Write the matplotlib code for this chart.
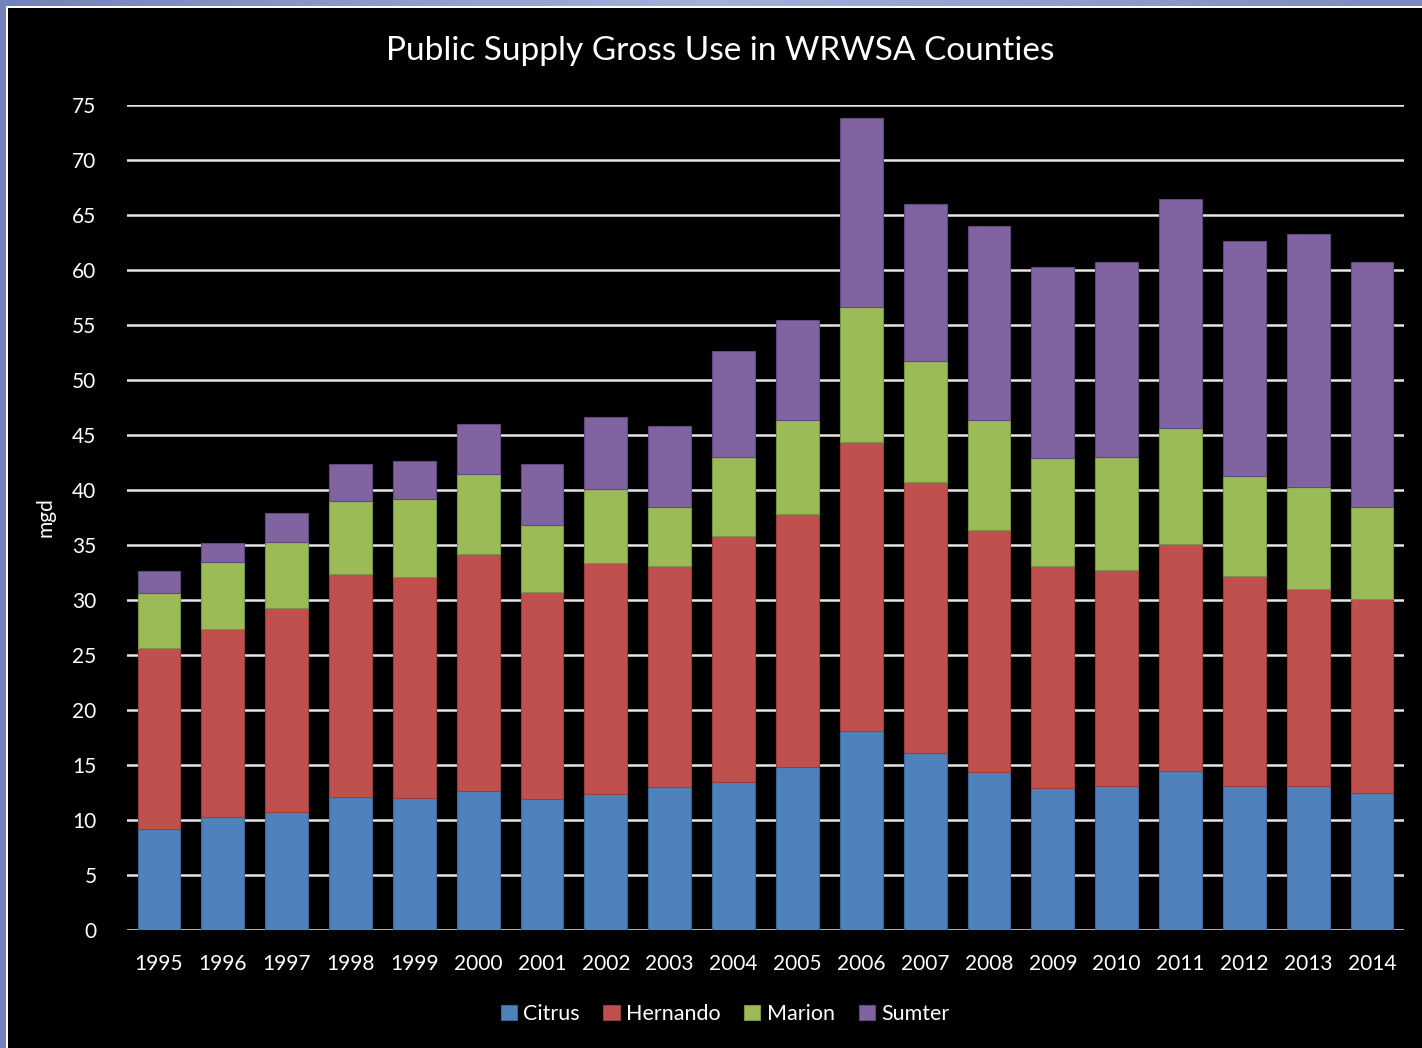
import numpy as np
import matplotlib.pyplot as plt
from matplotlib.patches import Rectangle

years = [str(y) for y in range(1995, 2015)]
citrus = [9.2, 10.3, 10.7, 12.1, 12.0, 12.6, 11.9, 12.4, 13.0, 13.5,
          14.8, 18.1, 16.1, 14.4, 12.9, 13.1, 14.5, 13.1, 13.1, 12.5]
hernando = [16.4, 17.1, 18.6, 20.3, 20.1, 21.6, 18.8, 21.0, 20.1, 22.3,
            23.0, 26.3, 24.6, 22.0, 20.2, 19.6, 20.6, 19.1, 17.9, 17.6]
marion = [5.0, 6.1, 6.0, 6.6, 7.1, 7.3, 6.1, 6.7, 5.4, 7.2,
          8.6, 12.2, 11.0, 10.0, 9.8, 10.3, 10.5, 9.1, 9.3, 8.4]
sumter = [2.0, 1.7, 2.6, 3.4, 3.4, 4.5, 5.6, 6.5, 7.3, 9.6,
          9.1, 17.2, 14.3, 17.6, 17.4, 17.7, 20.9, 21.3, 23.0, 22.2]

series = [("Citrus", citrus, "#4F81BD", "#3d6596"),
          ("Hernando", hernando, "#C0504D", "#983e3c"),
          ("Marion", marion, "#9BBB59", "#7a9446"),
          ("Sumter", sumter, "#8064A2", "#5f4a7a")]

plt.rcParams['font.family'] = ['Lato', 'DejaVu Sans']

W, H = 1422, 1048
fig = plt.figure(figsize=(W / 100, H / 100), dpi=100, facecolor="#8898c8")

# blue frame with a gradient, then the black chart area
bg = fig.add_axes([0, 0, 1, 1], zorder=-10)
grad = np.linspace(0, 1, 256).reshape(1, -1)
bg.imshow(grad, aspect="auto", cmap=plt.matplotlib.colors.LinearSegmentedColormap.from_list(
    "fr", ["#7283bb", "#a3b1d8", "#7a8bc0"]), extent=[0, 1, 0, 1])
bg.add_patch(Rectangle((5.5 / W, 0), 1, 1 - 5.5 / H, facecolor="white", edgecolor="none"))
bg.add_patch(Rectangle((7.5 / W, 0), 1, 1 - 7.5 / H, facecolor="black", edgecolor="none"))
bg.set_xlim(0, 1)
bg.set_ylim(0, 1)
bg.axis("off")

ax = fig.add_axes([127 / W, 1 - 930 / H, (1404 - 127) / W, (930 - 105) / H])
ax.set_facecolor("none")

x = np.arange(len(years))
bottom = np.zeros(len(years))
for name, vals, col, edge in series:
    ax.bar(x, vals, 0.67, bottom=bottom, color=col, edgecolor=edge,
           linewidth=0.8, label=name, zorder=3)
    bottom += np.array(vals)

ax.set_xlim(-0.5, len(years) - 0.5)
ax.set_ylim(0, 75)
ax.set_yticks(range(0, 80, 5))
ax.set_xticks(x)
ax.set_xticklabels(years)
ax.yaxis.grid(True, color="#e6e6e6", linewidth=1.8, zorder=1)
ax.tick_params(axis="both", length=0, colors="white", labelsize=15)
ax.tick_params(axis="y", pad=22)
ax.tick_params(axis="x", pad=17)
for s in ax.spines.values():
    s.set_visible(False)

ax.set_ylabel("mgd", color="white", fontsize=15, labelpad=12)
fig.text(720 / W, 1 - 51 / H, "Public Supply Gross Use in WRWSA Counties",
         color="white", fontsize=24, ha="center", va="center")

leg = ax.legend(loc="center", bbox_to_anchor=(725 / W, 1 - 1014 / H),
                bbox_transform=fig.transFigure, ncol=4, frameon=False,
                fontsize=15.5, handlelength=0.75, handleheight=0.75,
                handletextpad=0.3, columnspacing=1.1)
for t in leg.get_texts():
    t.set_color("white")

fig.savefig("out.png", dpi=100, facecolor=fig.get_facecolor())
